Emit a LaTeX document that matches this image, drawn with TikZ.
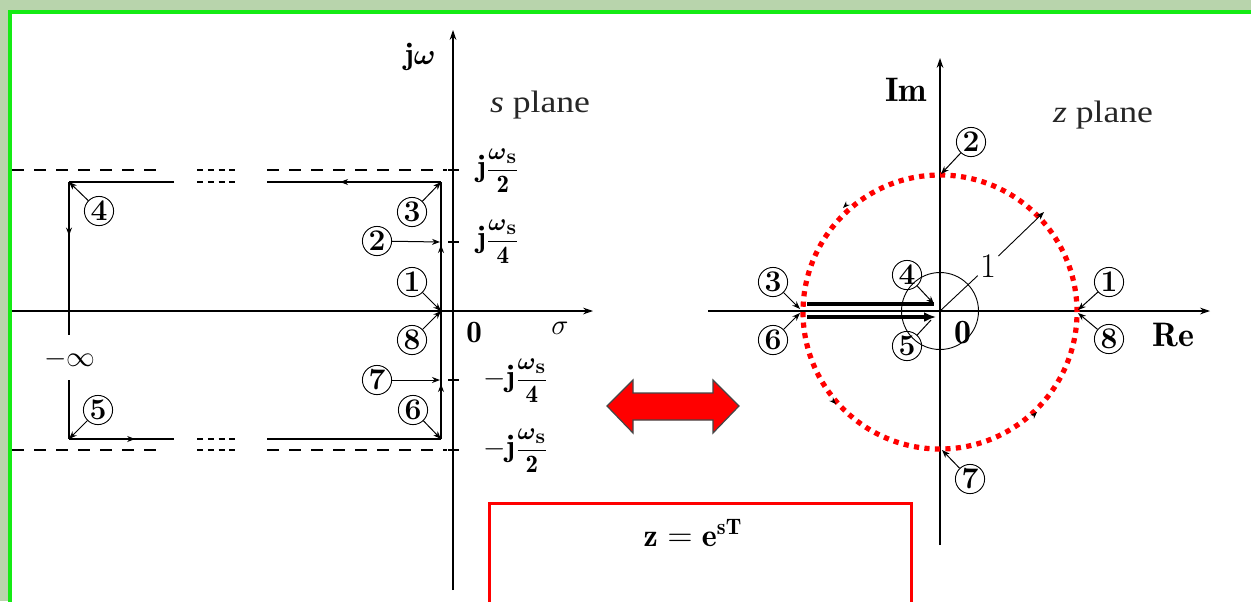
\documentclass[tikz,border=0pt]{standalone}
\usepackage{amsmath}
\usepackage{graphicx}
\usepackage{fontspec}
\newfontfamily\tnr{Liberation Serif}
\usetikzlibrary{arrows.meta,decorations.markings}
\definecolor{bggreen}{RGB}{184,212,172}
\definecolor{framegreen}{RGB}{20,235,20}
\definecolor{arrborder}{RGB}{70,70,70}
\newcommand{\ffr}[1]{{\fontsize{12.5}{13}\selectfont$\dfrac{\boldsymbol{\omega}_{\mbox{\fontsize{10.5}{11}\selectfont\bfseries s}}}{\mathbf{#1}}$}}
\begin{document}
\begin{tikzpicture}[x=0.5pt,y=-0.5pt,
  axis/.style={line width=0.55pt,-{Stealth[length=5pt,width=3.4pt]}},
  ln/.style={line width=0.55pt},
  dsh/.style={line width=0.55pt,dash pattern=on 6pt off 5pt},
  sdsh/.style={line width=0.55pt,dash pattern=on 3pt off 2.4pt},
  ptr/.style={line width=0.5pt,-{Stealth[length=4pt,width=3pt]}},
  tip/.style={line width=0.4pt,-{Stealth[length=3.5pt,width=2.6pt]}},
  cnum/.style={circle,draw,line width=0.45pt,minimum size=14.6pt,inner sep=0pt,font=\fontsize{15}{16}\selectfont\bfseries},
  lbl/.style={inner sep=1pt,font=\fontsize{15.5}{18}\selectfont},
  zlbl/.style={inner sep=1pt,font=\fontsize{17}{20}\selectfont},
  ttl/.style={inner sep=0pt,font=\tnr\fontsize{15.5}{18}\selectfont,text=black!85},
  thick2/.style={line width=2pt},
  mark1/.style={postaction={decorate},decoration={markings,mark=at position #1 with {\arrow{Stealth[length=4pt,width=3pt]}}}}
]
\useasboundingbox (0,0) rectangle (1251,601);
\clip (0,0) rectangle (1251,601);
% background and frame
\fill[bggreen] (0,0) rectangle (1251,601);
\fill[white] (10,12) rectangle (1260,610);
\draw[framegreen,line width=1.6pt] (10,620) -- (10,12) -- (1260,12);

% ================= s plane =================
\coordinate (sxL) at (12,311);
\coordinate (sxR) at (593,311);
\coordinate (syB) at (453,590);
\coordinate (syT) at (453,30);
\draw[axis] (sxL) -- (sxR);
\draw[axis] (syB) -- (syT);

% ticks
\foreach \yy in {170,242,380,450} \draw[ln] (448,\yy) -- (459,\yy);

% dashed limits
\draw[dsh] (12,170) -- (165,170);
\draw[sdsh] (197,170) -- (240,170);
\draw[dsh] (267,170) -- (447,170);
\draw[dsh] (12,450) -- (165,450);
\draw[sdsh] (197,450) -- (240,450);
\draw[dsh] (267,450) -- (447,450);

% rectangular contour
\coordinate (p3) at (441,182);
\coordinate (p2) at (441,242);
\coordinate (p1) at (441,311);
\coordinate (p7) at (441,380);
\coordinate (p6) at (441,439);
\coordinate (p4) at (69,182);
\coordinate (p5) at (69,439);
\draw[ln,mark1=0.58] (p3) -- (267,182);
\draw[sdsh] (197,182) -- (240,182);
\draw[ln] (174,182) -- (p4);
\draw[ln,mark1=0.35] (p4) -- (69,335);
\draw[ln] (69,380) -- (p5);
\draw[ln,mark1=0.63] (p5) -- (174,439);
\draw[sdsh] (197,439) -- (240,439);
\draw[ln] (267,439) -- (p6);
\draw[ln,postaction={decorate},decoration={markings,
   mark=at position 0.214 with {\arrow{Stealth[length=4pt,width=3pt]}},
   mark=at position 0.755 with {\arrow{Stealth[length=4pt,width=3pt]}}}] (p6) -- (p3);

% circled numbers s plane
\node[cnum] (c3) at (412,212) {3};
\node[cnum] (c2) at (377,241) {2};
\node[cnum] (c1) at (412,282) {1};
\node[cnum] (c8) at (412,340) {8};
\node[cnum] (c7) at (377,380) {7};
\node[cnum] (c6) at (413,410) {6};
\node[cnum] (c4) at (99,211) {4};
\node[cnum] (c5) at (98,410) {5};
\draw[ptr] (c3) -- (p3);
\draw[ptr] (c2) -- (440,242);
\draw[ptr] (c1) -- (p1);
\draw[ptr] (c8) -- (p1);
\draw[ptr] (c7) -- (440,380);
\draw[ptr] (c6) -- (p6);
\draw[ptr] (c4) -- (p4);
\draw[ptr] (c5) -- (p5);

% labels s plane
\node[lbl] (ljw) at (420,57) {$\mathbf{j}\boldsymbol{\omega}$};
\node[ttl] (lsp) at (540,105) {\scalebox{1.15}[1]{\textit{s} plane}};
\node[lbl] (l1) at (498,171) {$\mathbf{j}$\ffr{2}};
\node[lbl] (l2) at (498,242) {$\mathbf{j}$\ffr{4}};
\node[lbl] (l3) at (516,381) {$-\mathbf{j}$\ffr{4}};
\node[lbl] (l4) at (516,451) {$-\mathbf{j}$\ffr{2}};
\node[lbl] (l0) at (474,333) {$\mathbf{0}$};
\node[lbl] (lsig) at (560,328) {$\sigma$};
\node[lbl] (linf) at (70,359) {$-\infty$};

% ================= double arrow =================
\filldraw[fill=red,draw=arrborder,line width=0.6pt]
  (607,406) -- (633,380) -- (633,393) -- (713,393) -- (713,380) -- (739,406)
  -- (713,433) -- (713,420) -- (633,420) -- (633,433) -- cycle;

% ================= formula box =================
\draw[red,line width=1.5pt] (489,640) -- (489,503) -- (911,503) -- (911,640);
\node[inner sep=1pt,font=\fontsize{16}{18}\selectfont] (frm) at (693,533) {$\mathbf{z}=\mathbf{e}^{\mathbf{sT}}$};

% ================= z plane =================
\coordinate (O) at (940,311);
\coordinate (zxL) at (708,311);
\coordinate (zxR) at (1210,311);
\coordinate (zyB) at (940,545);
\coordinate (zyT) at (940,58);
\draw[axis] (zxL) -- (zxR);
\draw[axis] (zyB) -- (zyT);

% small circle
\draw[line width=0.45pt] (O) circle [radius=19.25pt];

% red dotted unit circle
\draw[red,line width=2.6pt,dash pattern=on 2.6pt off 2.65pt] (940,312) circle [radius=68.5pt];

% tiny direction tips on unit circle
\draw[tip] (846,205) -- (843,208);
\draw[tip] (833,401) -- (836,404);
\draw[tip] (1034,415) -- (1037,412);

% thick double line on negative real axis
\coordinate (q4) at (934,304);
\coordinate (q5) at (936,317);
\draw[thick2] (807,304) -- (q4);
\draw[thick2,-{Latex[length=6pt,width=5pt]}] (807,317) -- (q5);

% radius 1
\node[zlbl] (one) at (988,266) {$1$};
\coordinate (R1) at (1044,212);
\draw[line width=0.45pt] (O) -- (one);
\draw[line width=0.45pt,-{Stealth[length=4pt,width=3pt]}] (one) -- (R1);

% circled numbers z plane
\node[cnum] (z2) at (971,142) {2};
\node[cnum] (z3) at (773,282) {3};
\node[cnum] (z6) at (773,340) {6};
\node[cnum] (z4) at (907,275) {4};
\node[cnum] (z5) at (907,346) {5};
\node[cnum] (z1) at (1109,282) {1};
\node[cnum] (z8) at (1109,339) {8};
\node[cnum] (z7) at (970,479) {7};
\coordinate (q2) at (941,174);
\coordinate (q3) at (800,309);
\coordinate (q6) at (800,313);
\coordinate (q1) at (1078,310);
\coordinate (q8) at (1078,313);
\coordinate (q7) at (942,450);
\draw[ptr] (z2) -- (q2);
\draw[ptr] (z3) -- (q3);
\draw[ptr] (z6) -- (q6);
\draw[ptr] (z4) -- (q4);
\draw[line width=0.5pt] (z5) -- (931,320);
\draw[ptr] (z1) -- (q1);
\draw[ptr] (z8) -- (q8);
\draw[ptr] (z7) -- (q7);

% labels z plane
\node[zlbl] (lim) at (906,90) {$\mathbf{Im}$};
\node[zlbl] (lre) at (1173,335) {$\mathbf{Re}$};
\node[zlbl] (lz0) at (963,333) {$\mathbf{0}$};
\node[ttl] (lzp) at (1103,115) {\scalebox{1.15}[1]{\textit{z} plane}};
\end{tikzpicture}
\end{document}
